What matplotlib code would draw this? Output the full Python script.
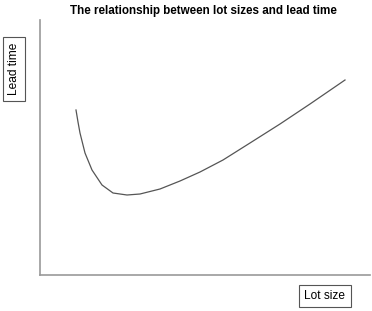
import matplotlib
matplotlib.use("Agg")
import matplotlib.pyplot as plt

plt.rcParams['font.family'] = ['Liberation Sans', 'DejaVu Sans']

# curve (arbitrary units)
lot_size = [36, 38, 40, 45, 52, 62, 73, 87, 100, 120, 140, 160, 183, 210, 240, 270, 305]
lead_time = [165, 153, 142, 122, 105, 90, 82, 80, 81, 86, 94, 103, 115, 132, 151, 171, 195]

title = "The relationship between lot sizes and lead time"
xlabel = "Lot size"
ylabel = "Lead time"

W, H = 372, 311
fig = plt.figure(figsize=(W / 100, H / 100), dpi=100)
ax = fig.add_axes([40 / W, 36 / H, 330 / W, 255 / H])

ax.plot(lot_size, lead_time, color='#555555', lw=0.9)
ax.set_xlim(0, 330)
ax.set_ylim(0, 255)
ax.set_xticks([])
ax.set_yticks([])
for s in ['top', 'right']:
    ax.spines[s].set_visible(False)
for s in ['left', 'bottom']:
    ax.spines[s].set_color('#999999')
    ax.spines[s].set_linewidth(1.2)

fig.text(203 / W, 1 - 11 / H, title, ha='center', va='center',
         fontsize=8.4, fontweight='bold')
box = dict(boxstyle='square,pad=0.45', fc='white', ec='#555555', lw=0.8)
fig.text(325 / W, 1 - 296 / H, xlabel, ha='center', va='center',
         fontsize=8.6, bbox=box)
fig.text(14 / W, 1 - 69 / H, ylabel, ha='center', va='center',
         fontsize=8.6, rotation=90, bbox=box)

fig.savefig('out.png', dpi=100)
